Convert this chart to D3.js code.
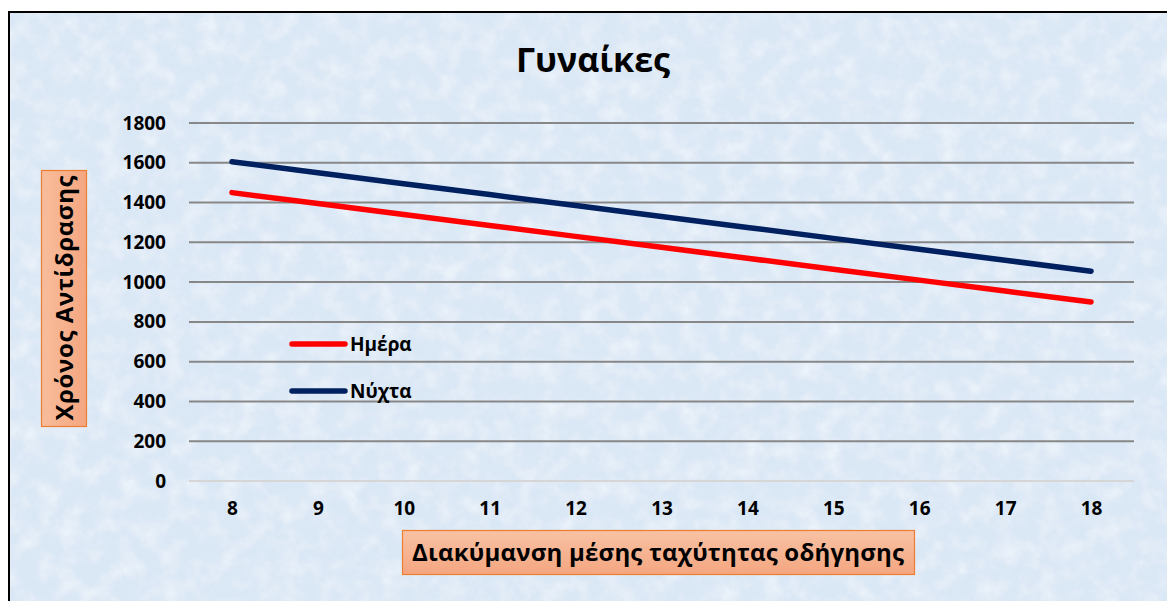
<!DOCTYPE html>
<html>
<head>
<meta charset="utf-8">
<script src="https://cdn.jsdelivr.net/npm/d3@7"></script>
<style>
  html, body { margin: 0; padding: 0; background: #ffffff; }
  svg { display: block; }
  text { font-family: "Open Sans", "Noto Sans", sans-serif; font-weight: 700; fill: #000; }
</style>
</head>
<body>
<svg id="chart" width="1167" height="601"></svg>
<script>
// Speed range categories (x axis)
const speeds = [8, 9, 10, 11, 12, 13, 14, 15, 16, 17, 18];
// Reaction time, day
const dayValues = [1450, 1395, 1340, 1285, 1230, 1175, 1120, 1065, 1010, 955, 900];
// Reaction time, night
const nightValues = [1605, 1550, 1495, 1440, 1385, 1330, 1275, 1220, 1165, 1110, 1055];
// Y axis ticks
const yTicks = [0, 200, 400, 600, 800, 1000, 1200, 1400, 1600, 1800];
const seriesNames = ["Ημέρα", "Νύχτα"];
const seriesColors = ["#ff0000", "#002060"];

const svg = d3.select("#chart");

// Textured pale-blue chart background
const defs = svg.append("defs");
const tex = defs.append("filter").attr("id", "paper")
  .attr("x", 0).attr("y", 0).attr("width", "100%").attr("height", "100%");
tex.append("feTurbulence").attr("type", "fractalNoise")
  .attr("baseFrequency", "0.05").attr("numOctaves", 4).attr("seed", 7).attr("result", "noise");
tex.append("feColorMatrix").attr("in", "noise").attr("type", "matrix")
  .attr("values", "0 0 0 0 1  0 0 0 0 1  0 0 0 0 1  1.4 0 0 0 -0.55").attr("result", "speck");
tex.append("feComposite").attr("in", "speck").attr("in2", "SourceGraphic").attr("operator", "in");

const ygrad = defs.append("linearGradient").attr("id", "boxFill")
  .attr("x1", 0).attr("y1", 0).attr("x2", 1).attr("y2", 0);
ygrad.append("stop").attr("offset", "0%").attr("stop-color", "#f8bd9c");
ygrad.append("stop").attr("offset", "100%").attr("stop-color", "#f4a680");
const xgrad = defs.append("linearGradient").attr("id", "boxFillH")
  .attr("x1", 0).attr("y1", 0).attr("x2", 0).attr("y2", 1);
xgrad.append("stop").attr("offset", "0%").attr("stop-color", "#f8c2a4");
xgrad.append("stop").attr("offset", "100%").attr("stop-color", "#f4a680");

svg.append("rect").attr("x", 9).attr("y", 12).attr("width", 1170).attr("height", 600)
  .attr("fill", "#dae7f5");
svg.append("rect").attr("x", 9).attr("y", 12).attr("width", 1170).attr("height", 600)
  .attr("fill", "#dae7f5").attr("filter", "url(#paper)").attr("opacity", 0.7);
svg.append("path").attr("d", "M9,612 V12 H1180")
  .attr("fill", "none").attr("stroke", "#000").attr("stroke-width", 2);

// Scales
const plot = { left: 189, right: 1134, top: 123, bottom: 481 };
const x = d3.scalePoint().domain(speeds).range([plot.left, plot.right]).padding(0.5);
const y = d3.scaleLinear().domain([0, 1800]).range([plot.bottom, plot.top]);

// Gridlines
const grid = svg.append("g");
grid.selectAll("line").data(yTicks.filter(d => d > 0)).join("line")
  .attr("x1", plot.left).attr("x2", plot.right)
  .attr("y1", d => y(d)).attr("y2", d => y(d))
  .attr("stroke", "#878787").attr("stroke-width", 2);
// Category axis line
svg.append("line").attr("x1", plot.left).attr("x2", plot.right)
  .attr("y1", y(0)).attr("y2", y(0))
  .attr("stroke", "#d6d6d6").attr("stroke-width", 2);

// Y axis labels
const yAxis = d3.axisLeft(y).tickValues(yTicks).tickFormat(d3.format("d")).tickSize(0).tickPadding(0);
const yg = svg.append("g").attr("transform", "translate(166,0)").call(yAxis);
yg.select(".domain").remove();
yg.selectAll("text").attr("font-size", 19).attr("font-family", "'Open Sans', sans-serif")
  .attr("font-weight", 700).attr("fill", "#000");

// X axis labels
const xAxis = d3.axisBottom(x).tickSize(0).tickPadding(0);
const xg = svg.append("g").attr("transform", "translate(0,501)").call(xAxis);
xg.select(".domain").remove();
xg.selectAll("text").attr("font-size", 19).attr("font-family", "'Open Sans', sans-serif")
  .attr("font-weight", 700).attr("fill", "#000");

// Series lines
const line = d3.line().x((d, i) => x(speeds[i])).y(d => y(d));
[dayValues, nightValues].forEach((vals, k) => {
  svg.append("path").datum(vals).attr("d", line)
    .attr("fill", "none").attr("stroke", seriesColors[k])
    .attr("stroke-width", 5.5).attr("stroke-linecap", "round").attr("stroke-linejoin", "round");
});

// Legend
const legend = svg.append("g");
seriesNames.forEach((name, k) => {
  const ly = 344 + k * 47;
  legend.append("line").attr("x1", 292).attr("x2", 345).attr("y1", ly).attr("y2", ly)
    .attr("stroke", seriesColors[k]).attr("stroke-width", 5.5).attr("stroke-linecap", "round");
  legend.append("text").attr("x", 350).attr("y", ly + 7).attr("font-size", 19).text(name);
});

// Title
svg.append("text").attr("x", 593).attr("y", 72).attr("text-anchor", "middle")
  .attr("font-size", 34).text("Γυναίκες");

// Y axis title box
svg.append("rect").attr("x", 41.5).attr("y", 170.5).attr("width", 45).attr("height", 256)
  .attr("fill", "url(#boxFill)").attr("stroke", "#ed7d31").attr("stroke-width", 1.2);
svg.append("text").attr("transform", "translate(73,298) rotate(-90)")
  .attr("text-anchor", "middle").attr("font-size", 24).attr("textLength", 245)
  .text("Χρόνος Αντίδρασης");

// X axis title box
svg.append("rect").attr("x", 402.5).attr("y", 530.5).attr("width", 512).attr("height", 44)
  .attr("fill", "url(#boxFillH)").attr("stroke", "#ed7d31").attr("stroke-width", 1.2);
svg.append("text").attr("x", 658).attr("y", 561).attr("text-anchor", "middle")
  .attr("font-size", 24).attr("textLength", 492)
  .text("Διακύμανση μέσης ταχύτητας οδήγησης");
</script>
</body>
</html>
